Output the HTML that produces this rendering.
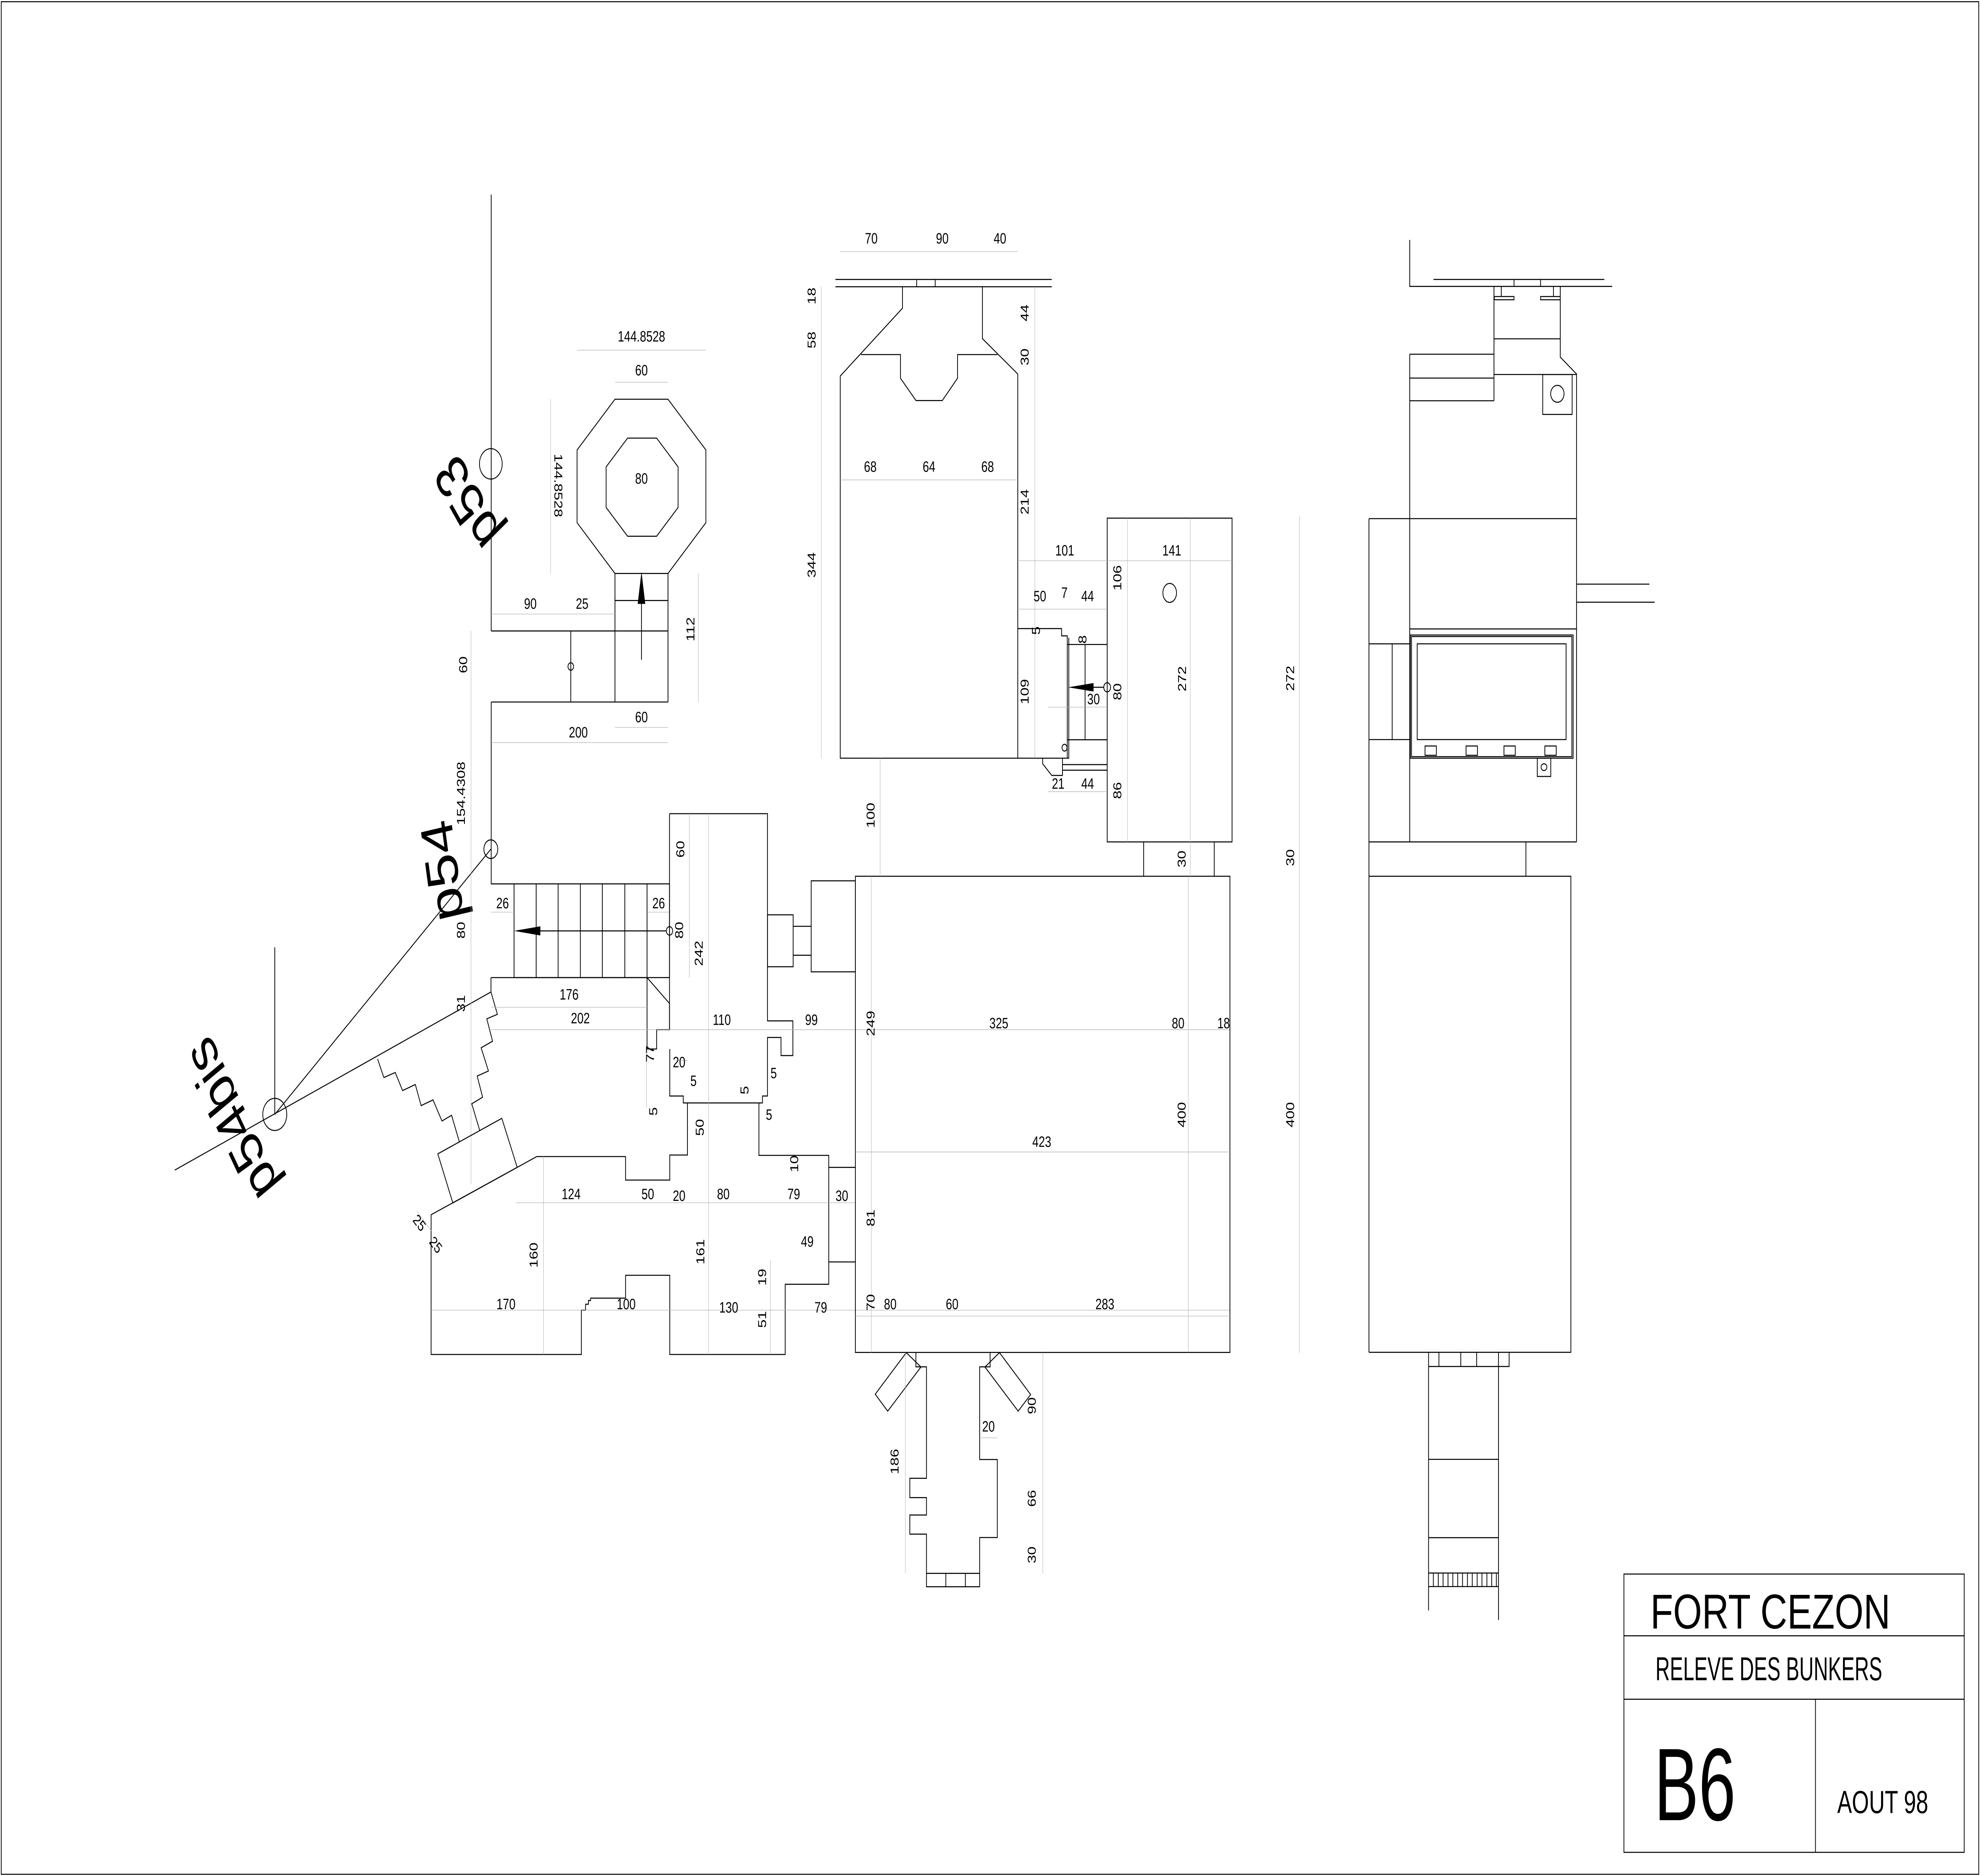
<!DOCTYPE html>
<html><head><meta charset="utf-8"><style>
html,body{margin:0;padding:0;background:#fff;overflow:hidden;width:100%;height:100%}
svg{display:block;position:absolute;left:0;top:0;width:100vw;height:100vh}
.m{fill:none;stroke:#000;stroke-width:0.6}
.g{fill:none;stroke:#b0b0b0;stroke-width:0.3}
text{font-family:"Liberation Sans",sans-serif;fill:#000}
.d{font-size:9px;text-anchor:middle;dominant-baseline:central}
.b{font-size:36px;text-anchor:middle;dominant-baseline:central}
</style></head><body>
<svg viewBox="0 0 1568 1109" preserveAspectRatio="none" xmlns="http://www.w3.org/2000/svg">
<rect x="0" y="0" width="1568" height="1109" fill="#fff"/>
<rect x="1" y="1" width="1566" height="1107" class="m"/>

<rect x="1286" y="930.5" width="269.5" height="164.5" class="m"/>
<line x1="1286" y1="967" x2="1555.5" y2="967" class="m"/>
<line x1="1286" y1="1004.5" x2="1555.5" y2="1004.5" class="m"/>
<line x1="1437.7" y1="1004.5" x2="1437.7" y2="1095" class="m"/>
<text x="1307" y="962.7" font-size="29" textLength="190" lengthAdjust="spacingAndGlyphs">FORT CEZON</text>
<text x="1311" y="993.3" font-size="19.5" textLength="179.6" lengthAdjust="spacingAndGlyphs">RELEVE DES BUNKERS</text>
<text x="1310" y="1076" font-size="61" textLength="64.5" lengthAdjust="spacingAndGlyphs">B6</text>
<text x="1455" y="1071.8" font-size="19" textLength="72" lengthAdjust="spacingAndGlyphs">AOUT 98</text>

<line x1="389" y1="115" x2="389" y2="373" class="m"/>
<circle cx="388.7" cy="274.2" r="9" class="m" stroke-width="0.4"/>
<text class="b" transform="translate(370,298) rotate(233)">p53</text>
<circle cx="388.7" cy="502" r="5.5" class="m" stroke-width="0.4"/>
<text class="b" transform="translate(350,515) rotate(-100)">p54</text>
<line x1="217.6" y1="560" x2="217.6" y2="658.8" class="m" stroke-width="0.4"/>
<circle cx="217.6" cy="658.8" r="9.5" class="m" stroke-width="0.4"/>
<line x1="217.6" y1="658.8" x2="388.7" y2="502" class="m" stroke-width="0.4"/>
<line x1="138.4" y1="691.7" x2="388.8" y2="586.4" class="m" stroke-width="0.4"/>
<text class="b" transform="translate(183,662) rotate(-122)">p54bis</text>

<polygon points="487,236 529,236 559,266 559,309 529,339 487,339 457,309 457,266" class="m"/>
<polygon points="497,259 520,259 537,276 537,300 520,317 497,317 480,300 480,276" class="m"/>
<text class="d" x="508" y="283">80</text>
<line x1="457" y1="207" x2="559" y2="207" class="g"/><text class="d" x="508" y="199">144.8528</text>
<line x1="487" y1="226" x2="529" y2="226" class="g"/><text class="d" x="508" y="219">60</text>
<line x1="436" y1="236" x2="436" y2="339" class="g"/><text class="d" transform="translate(442,287) rotate(90)">144.8528</text>

<path d="M487,339 V373 M529,339 V415 M487,355 H529 M389,373 H529 M452,373 V415 M487,373 V415 M389,415 H529 M389,415 V522.5" class="m"/>
<line x1="508" y1="390" x2="508" y2="345" class="m" stroke-width="0.4"/>
<polygon points="508,338 505,357 511,357" fill="#000"/>
<circle cx="452" cy="394" r="2.2" class="m" stroke-width="0.4"/>
<line x1="389" y1="363" x2="487" y2="363" class="g"/>
<text class="d" x="420" y="357">90</text><text class="d" x="461" y="357">25</text>
<line x1="553" y1="339" x2="553" y2="415" class="g"/><text class="d" transform="translate(547,372) rotate(-90)">112</text>
<line x1="373" y1="373" x2="373" y2="700" class="g"/>
<text class="d" transform="translate(367,393) rotate(-90)">60</text>
<line x1="487" y1="430" x2="529" y2="430" class="g"/><text class="d" x="508" y="424">60</text>
<line x1="389" y1="439" x2="529" y2="439" class="g"/><text class="d" x="458" y="433">200</text>

<rect x="407.1" y="522.5" width="123.1" height="55.4" class="m"/>
<path d="M388.8,522.5 H407.1 M424.6,522.5 V577.9 M442,522.5 V577.9 M459.6,522.5 V577.9 M477,522.5 V577.9 M494.8,522.5 V577.9 M512.4,522.5 V577.9" class="m"/>
<line x1="412" y1="550.3" x2="527.7" y2="550.3" class="m" stroke-width="0.4"/>
<polygon points="407.1,550.3 427.9,547.6 427.9,553" fill="#000"/>
<circle cx="530.2" cy="550.3" r="2.5" class="m" stroke-width="0.4"/>
<line x1="388.8" y1="539.2" x2="407.1" y2="539.2" class="g"/><line x1="512.4" y1="539.2" x2="530.2" y2="539.2" class="g"/>
<text class="d" x="398" y="534">26</text><text class="d" x="521.6" y="534">26</text>
<text class="d" transform="translate(365.2,549.9) rotate(-90)">80</text>
<text class="d" transform="translate(538,549.9) rotate(-90)">80</text>
<text class="d" transform="translate(365.2,469) rotate(-90)">154.4308</text>
<text class="d" transform="translate(365.2,593.2) rotate(-90)">31</text>

<path d="M388.8,577.9 H512.4 M388.8,577.9 V586.4 L393.9,599.6 L385.5,602.3 L390.1,615.5 L381,619.4 L386.8,633.1 L377.9,636.1 L382.2,648.6 L373.6,652.5 L379.9,668.3" class="m"/>
<path d="M299,626 L304,637 L313,634 L318.8,644.7 L328.9,641.1 L333.5,653.6 L342.9,650.2 L350,662.7 L357.6,659.3 L363.9,675.3" class="m"/>
<polygon points="346.7,682.1 397.4,661.1 409.6,690.1 358.6,711.1" class="m"/>

<path d="M512.4,577.9 L530.2,593.2 V608.7 H520 V620.1 H512.4 V577.9" class="m"/>
<path d="M530.2,481 H607.8 V603.5 H627.9 V624 H618.5 V613.3 H607.8 V647.9 H603.8 V652 H541.1 V647.9 H530.4 V620.1 M530.2,481 V608.7" class="m"/>
<path d="M544.4,652 V682.8 H530.4 V697.6 H495.4 V683.7 H425.1 L341.4,718.1 V800.7 H460.4 V774.5 H463.7 V771 H466 V768.8 H467.7 V767.4 H495.4 V753.9 H530.4 V800.7 H621.8 V759.2 H656.3 V683 H601 V652" class="m"/>
<rect x="607.8" y="540.8" width="20.3" height="30.7" class="m"/>
<path d="M628.1,547.6 H642.4 M628.1,564.7 H642.4" class="m"/>
<rect x="642.4" y="520.7" width="35" height="53.8" class="m"/>
<path d="M656.3,690.1 H677.4 M656.3,746 H677.4" class="m"/>

<path d="M545.9,481 V577.9 M561.1,481 V800.7 M430.4,683.7 V800.7 M610.1,745 V800.7 M388.8,595.5 H512.4 M388.8,608.7 H974 M408.4,711 H677.4 M341.4,774.5 H974 M512,620 V655 M535,627 H545 M330,716 L342,728" class="g"/>
<text class="d" transform="translate(539,502) rotate(-90)">60</text>
<text class="d" transform="translate(553.5,563.6) rotate(-90)">242</text>
<text class="d" x="450.7" y="588">176</text>
<text class="d" x="459.6" y="602">202</text>
<text class="d" x="571.6" y="603">110</text>
<text class="d" x="642.6" y="603">99</text>
<text class="d" transform="translate(515,623) rotate(-90)">77</text>
<text class="d" x="537.8" y="628">20</text>
<text class="d" x="549.2" y="639">5</text>
<text class="d" transform="translate(589.8,644.5) rotate(-90)">5</text>
<text class="d" x="612.7" y="634.5">5</text>
<text class="d" transform="translate(517.5,657) rotate(-90)">5</text>
<text class="d" x="609" y="659">5</text>
<text class="d" transform="translate(554.3,666.5) rotate(-90)">50</text>
<text class="d" transform="translate(629.2,688) rotate(-90)">10</text>
<text class="d" x="452.3" y="706">124</text>
<text class="d" x="513" y="706">50</text>
<text class="d" x="537.8" y="707">20</text>
<text class="d" x="572.8" y="706">80</text>
<text class="d" x="628.6" y="706">79</text>
<text class="d" x="666.7" y="707">30</text>
<text class="d" transform="translate(332,723) rotate(45)">25</text>
<text class="d" transform="translate(345,736) rotate(45)">25</text>
<text class="d" transform="translate(422.8,742) rotate(-90)">160</text>
<text class="d" transform="translate(554.8,740) rotate(-90)">161</text>
<text class="d" x="639.3" y="734">49</text>
<text class="d" transform="translate(603.8,755) rotate(-90)">19</text>
<text class="d" x="400.7" y="771">170</text>
<text class="d" x="495.9" y="771">100</text>
<text class="d" x="577.1" y="773">130</text>
<text class="d" x="650" y="773">79</text>
<text class="d" transform="translate(603.8,780) rotate(-90)">51</text>

<rect x="677.4" y="518" width="296.6" height="281.5" class="m"/>
<path d="M677.4,681 H974 M941,518 V799.5 M690,518 V799.5 M677.4,778 H974" class="g"/>
<text class="d" transform="translate(689.6,482) rotate(-90)">100</text>
<text class="d" transform="translate(689.6,605) rotate(-90)">249</text>
<text class="d" x="791" y="605">325</text>
<text class="d" x="933" y="605">80</text>
<text class="d" x="969" y="605">18</text>
<text class="d" x="825" y="675">423</text>
<text class="d" transform="translate(936,659) rotate(-90)">400</text>
<text class="d" transform="translate(689.6,720) rotate(-90)">81</text>
<text class="d" transform="translate(689.6,770) rotate(-90)">70</text>
<text class="d" x="705" y="771">80</text>
<text class="d" x="754" y="771">60</text>
<text class="d" x="875" y="771">283</text>

<polygon points="717.7,799.6 693.1,824.2 703,834.2 729.3,808.1" class="m"/>
<polygon points="791.5,799.6 816.2,824.4 806.3,834.2 780,808.1" class="m"/>
<path d="M725.3,799.6 V808 H733.7 V873.9 H720.5 V885.3 H733.7 V895.6 H720.5 V906.9 H733.7 V938 H775.8 V908.9 H789.8 V862.8 H775.8 V808 H784.1 V799.6" class="m"/>
<path d="M733.7,930.1 H775.8 M749,930.1 V938 M764.5,930.1 V938" class="m"/>
<path d="M717,799.6 V930 M825.8,799.6 V930 M775.8,850 H789.8" class="g"/>
<text class="d" transform="translate(708.6,864) rotate(-90)">186</text>
<text class="d" x="782.8" y="843.4">20</text>
<text class="d" transform="translate(817.3,831) rotate(-90)">90</text>
<text class="d" transform="translate(817.3,885.8) rotate(-90)">66</text>
<text class="d" transform="translate(817.3,919.2) rotate(-90)">30</text>

<path d="M661.6,165.2 H832.9 M661.6,169.5 H832.9 M725.9,165.2 V169.5 M740.6,165.2 V169.5" class="m"/>
<path d="M714.7,169.5 V182.2 L665.4,222.3 V448.2 H806 V221.1 L778,200.2 V169.5" class="m"/>
<path d="M681.8,209.6 H713.1 V223.6 L725.4,236.8 H746.2 L758.3,223.6 V209.6 H789.9" class="m"/>
<path d="M806,371.6 H840.7 V375.9 H845.2 V448.2 M846.4,377 V448.2 H806 M845.2,381 H876.8 M859.3,381 V437.3 M845.2,437.3 H876.8 M825.7,448.2 V451.5 L832.9,458.4 H841.4 V448.2 M841.4,452 H876.8 M841.4,455.3 H876.8" class="m"/>
<line x1="850" y1="406.3" x2="874" y2="406.3" class="m" stroke-width="0.4"/>
<polygon points="845.9,406.3 866,403.8 866,408.8" fill="#000"/>
<circle cx="876.8" cy="406.3" r="2.7" class="m" stroke-width="0.4"/>
<circle cx="843" cy="442" r="2" class="m" stroke-width="0.4"/>
<rect x="876.8" y="306.3" width="98.9" height="191.4" class="m"/>
<path d="M905.7,497.7 V518 M961.6,497.7 V518" class="m"/>
<path d="M806,331.5 H975.7 M892.9,306.3 V497.7 M942.6,306.3 V518 M806,360.1 H876.8 M819.5,169.5 V448.2 M650.4,169.5 V448.2 M665.4,148.7 H806 M665.4,283.7 H806 M830,418 H876.8 M830,468 H876.8 M1029,305 V800 M697,448 V518" class="g"/>
<ellipse cx="926.3" cy="350.5" rx="5.4" ry="5.6" class="m" stroke-width="0.4"/>
<text class="d" x="690" y="141">70</text><text class="d" x="746.2" y="141">90</text><text class="d" x="791.9" y="141">40</text>
<text class="d" x="689.2" y="276">68</text><text class="d" x="735.7" y="276">64</text><text class="d" x="782.1" y="276">68</text>
<text class="d" transform="translate(643,175) rotate(-90)">18</text>
<text class="d" transform="translate(643,201) rotate(-90)">58</text>
<text class="d" transform="translate(643,334) rotate(-90)">344</text>
<text class="d" transform="translate(811.6,185) rotate(-90)">44</text>
<text class="d" transform="translate(811.6,211) rotate(-90)">30</text>
<text class="d" transform="translate(811.6,296.7) rotate(-90)">214</text>
<text class="d" x="843.2" y="325.5">101</text>
<text class="d" x="928" y="325.5">141</text>
<text class="d" x="823.5" y="352.5">50</text>
<text class="d" x="843" y="350.5">7</text>
<text class="d" x="861.3" y="352.5">44</text>
<text class="d" transform="translate(885,341.6) rotate(-90)">106</text>
<text class="d" transform="translate(885,408.9) rotate(-90)">80</text>
<text class="d" transform="translate(885,467.3) rotate(-90)">86</text>
<text class="d" transform="translate(936.3,401.3) rotate(-90)">272</text>
<text class="d" transform="translate(811.6,408.9) rotate(-90)">109</text>
<text class="d" x="866" y="413.4">30</text>
<text class="d" transform="translate(857.5,378) rotate(-90)">8</text>
<text class="d" transform="translate(820.6,372.8) rotate(-90)">5</text>
<text class="d" x="838" y="463.4">21</text>
<text class="d" x="861.3" y="463.4">44</text>
<text class="d" transform="translate(936,507.8) rotate(-90)">30</text>
<text class="d" transform="translate(1022,401) rotate(-90)">272</text>
<text class="d" transform="translate(1022,507) rotate(-90)">30</text>
<text class="d" transform="translate(1022,659) rotate(-90)">400</text>

<path d="M1116.4,141.8 V169.3 H1276.7 M1135.2,165.2 H1270.5 M1199,165.2 V169.3 M1220,165.2 V169.3" class="m"/>
<path d="M1183.1,169.3 V236.9 M1235.6,169.3 V211.1 L1248.5,221.1 V497.7 M1183.1,200.3 H1235.6 M1188.9,169.3 V175.3 M1230.2,169.3 V175.3" class="m"/>
<rect x="1183.4" y="175.3" width="15.6" height="1.9" class="m" stroke-width="0.4"/>
<rect x="1220" y="175.3" width="15.6" height="1.9" class="m" stroke-width="0.4"/>
<path d="M1116.4,209.4 H1183.1 M1116.4,223.5 H1183.1 M1116.4,236.9 H1183.1 M1183.1,221.4 H1248.5 M1116.4,209.4 V497.7" class="m"/>
<rect x="1221.7" y="221.4" width="23.3" height="23.6" class="m"/>
<ellipse cx="1233.3" cy="232.8" rx="5.3" ry="5" class="m" stroke-width="0.4"/>
<path d="M1084.1,306.6 H1248.5 M1084.1,306.6 V799.4 M1248.5,345.3 H1306.2 M1248.5,356 H1310.4 M1116.4,371.8 H1248.5 M1084.1,380.6 H1116.4 M1084.1,437.2 H1116.4 M1102.5,380.6 V437.2" class="m"/>
<rect x="1116.9" y="375.4" width="128.9" height="72.8" class="m"/>
<rect x="1117.8" y="376.3" width="127" height="71" class="m" stroke-width="0.3"/>
<rect x="1122.3" y="380.6" width="117.9" height="56.6" class="m"/>
<g class="m" stroke-width="0.4">
<rect x="1128.5" y="441" width="9" height="5.5"/><rect x="1161" y="441" width="9" height="5.5"/><rect x="1191" y="441" width="9" height="5.5"/><rect x="1223.4" y="441" width="9" height="5.5"/>
</g>
<rect x="1217.4" y="448.2" width="10.7" height="10.8" class="m"/>
<ellipse cx="1222.7" cy="453.5" rx="2.3" ry="2" class="m" stroke-width="0.4"/>
<path d="M1084.1,497.7 H1248.5 M1208.4,497.7 V518 M1084.1,518 H1244 V799.4 H1084.1" class="m"/>
<path d="M1131.3,799.4 V952 M1186.7,799.4 V957.7 M1131.3,807.8 H1195.1 V799.4 M1139.5,799.4 V807.8 M1156.8,799.4 V807.8 M1169.4,799.4 V807.8 M1131.3,862.7 H1186.7 M1131.3,909 H1186.7 M1131.3,929.9 H1186.7 M1131.3,937.9 H1186.7" class="m"/>
<path d="M1135.1,929.9 V937.9 M1139,929.9 V937.9 M1142.8,929.9 V937.9 M1146.7,929.9 V937.9 M1150.5,929.9 V937.9 M1154.4,929.9 V937.9 M1158.2,929.9 V937.9 M1162.1,929.9 V937.9 M1165.9,929.9 V937.9 M1169.8,929.9 V937.9 M1173.6,929.9 V937.9 M1177.5,929.9 V937.9 M1181.3,929.9 V937.9 M1185,929.9 V937.9" class="m" stroke-width="0.4"/>
</svg>
</body></html>
